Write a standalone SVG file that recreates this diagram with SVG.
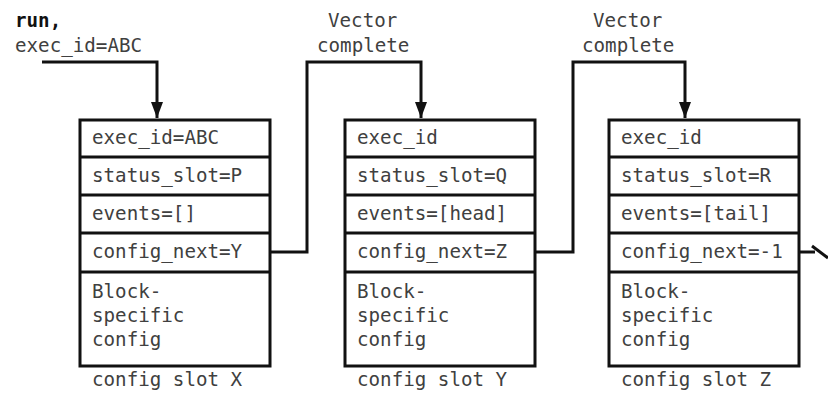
<svg xmlns="http://www.w3.org/2000/svg" width="828" height="393" viewBox="0 0 828 393">
  <style>
    .t { font-family: "DejaVu Sans Mono", "Liberation Mono", monospace; font-size: 19.2px; fill: #404040; }
    .b { font-weight: bold; fill: #111; }
    .box { fill: #fff; stroke: #111; stroke-width: 3; }
    .div { stroke: #111; stroke-width: 3; }
    .wire { fill: none; stroke: #111; stroke-width: 3; }
  </style>
  <defs>
    <marker id="down" viewBox="0 0 12 16" refX="6" refY="16" markerWidth="12" markerHeight="16" markerUnits="userSpaceOnUse" orient="0">
      <path d="M0,0 L12,0 L6,16 Z" fill="#111"/>
    </marker>
  </defs>
  <rect width="828" height="393" fill="#fff"/>

  <!-- labels above the chain -->
  <g id="start-label">
    <text class="t b" x="15" y="27">run,</text>
    <text class="t" x="15" y="52">exec_id=ABC</text>
  </g>
  <g id="vector-label-1">
    <text class="t" x="328" y="27">Vector</text>
    <text class="t" x="317" y="52">complete</text>
  </g>
  <g id="vector-label-2">
    <text class="t" x="593" y="27">Vector</text>
    <text class="t" x="582" y="52">complete</text>
  </g>

  <!-- connectors -->
  <g id="connectors">
    <polyline class="wire" points="42,62 157,62 157,118" marker-end="url(#down)"/>
    <polyline class="wire" points="270,252 307,252 307,62 421,62 421,118" marker-end="url(#down)"/>
    <polyline class="wire" points="535,252 573,252 573,62 685,62 685,118" marker-end="url(#down)"/>
    <polyline class="wire" points="799,252 815,252"/>
    <line class="wire" x1="812" y1="246" x2="828" y2="258"/>
  </g>

  <!-- config slot X -->
  <g id="slot-x">
    <rect class="box" x="80" y="120" width="190" height="246"/>
    <line class="div" x1="80" y1="157" x2="270" y2="157"/>
    <line class="div" x1="80" y1="195" x2="270" y2="195"/>
    <line class="div" x1="80" y1="233" x2="270" y2="233"/>
    <line class="div" x1="80" y1="272" x2="270" y2="272"/>
    <text class="t" x="92" y="144">exec_id=ABC</text>
    <text class="t" x="92" y="182">status_slot=P</text>
    <text class="t" x="92" y="220">events=[]</text>
    <text class="t" x="92" y="258">config_next=Y</text>
    <text class="t" x="92" y="298">Block-</text>
    <text class="t" x="92" y="322">specific</text>
    <text class="t" x="92" y="346">config</text>
    <text class="t" x="92" y="386">config slot X</text>
  </g>

  <!-- config slot Y -->
  <g id="slot-y">
    <rect class="box" x="345" y="120" width="190" height="246"/>
    <line class="div" x1="345" y1="157" x2="535" y2="157"/>
    <line class="div" x1="345" y1="195" x2="535" y2="195"/>
    <line class="div" x1="345" y1="233" x2="535" y2="233"/>
    <line class="div" x1="345" y1="272" x2="535" y2="272"/>
    <text class="t" x="357" y="144">exec_id</text>
    <text class="t" x="357" y="182">status_slot=Q</text>
    <text class="t" x="357" y="220">events=[head]</text>
    <text class="t" x="357" y="258">config_next=Z</text>
    <text class="t" x="357" y="298">Block-</text>
    <text class="t" x="357" y="322">specific</text>
    <text class="t" x="357" y="346">config</text>
    <text class="t" x="357" y="386">config slot Y</text>
  </g>

  <!-- config slot Z -->
  <g id="slot-z">
    <rect class="box" x="609" y="120" width="190" height="246"/>
    <line class="div" x1="609" y1="157" x2="799" y2="157"/>
    <line class="div" x1="609" y1="195" x2="799" y2="195"/>
    <line class="div" x1="609" y1="233" x2="799" y2="233"/>
    <line class="div" x1="609" y1="272" x2="799" y2="272"/>
    <text class="t" x="621" y="144">exec_id</text>
    <text class="t" x="621" y="182">status_slot=R</text>
    <text class="t" x="621" y="220">events=[tail]</text>
    <text class="t" x="621" y="258">config_next=-1</text>
    <text class="t" x="621" y="298">Block-</text>
    <text class="t" x="621" y="322">specific</text>
    <text class="t" x="621" y="346">config</text>
    <text class="t" x="621" y="386">config slot Z</text>
  </g>
</svg>
